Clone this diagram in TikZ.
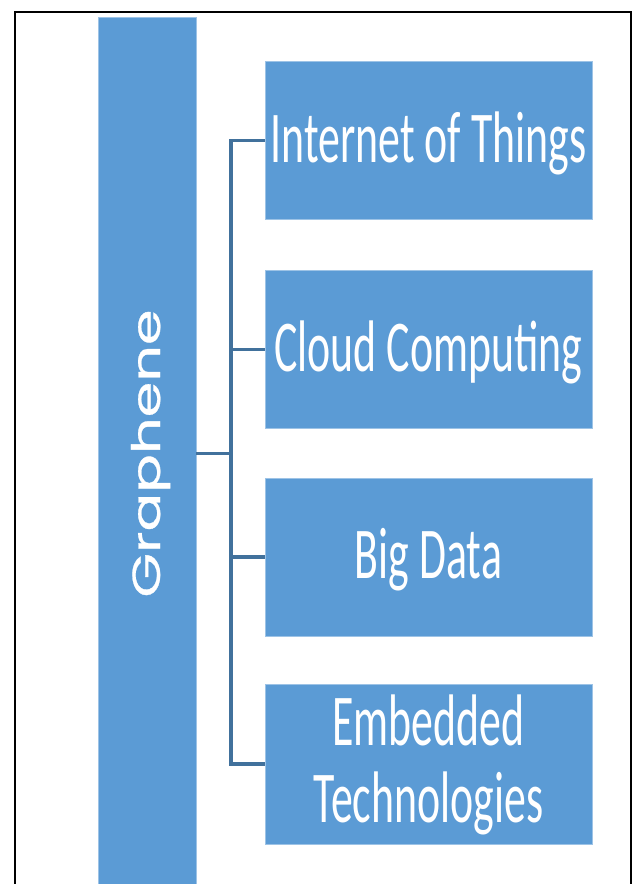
\documentclass[tikz,border=0pt]{standalone}
\usepackage{fontspec}
\newfontfamily\calib[FakeStretch=0.6]{Carlito}
\newfontfamily\gothic[FakeBold=0.6]{Poppins}
\definecolor{boxblue}{HTML}{5B9BD5}
\definecolor{linkblue}{HTML}{41719C}
\begin{document}
\begin{tikzpicture}[x=1pt,y=-1pt,
  blk/.style={fill=boxblue, draw=boxblue!60!white, line width=0.6pt, inner sep=0, minimum width=327pt, minimum height=158pt},
  lbl/.style={text=white, font=\calib\fontsize{73}{77}\selectfont, anchor=base, inner sep=0},
  link/.style={draw=linkblue, line width=3.4pt},
  linkshadow/.style={draw=black!55, line width=3.4pt, opacity=0.55}]
\useasboundingbox (0,0) rectangle (635,884);
\clip (0,0) rectangle (635,884);
\draw[line width=1.3pt] (15,12) rectangle (631,920);
% left tall box
\node[fill=boxblue, draw=boxblue!60!white, line width=0.6pt, inner sep=0, minimum width=98pt, minimum height=873pt] (g) at (147,453.5) {};
\node[rotate=90, anchor=base, text=white, inner sep=0] (gt) at (160,453.5) {\resizebox{288pt}{29pt}{\gothic Graphene}};
% right boxes
\node[blk] (b1) at (428.5,140.5) {};
\node[blk] (b2) at (428.5,349.5) {};
\node[blk] (b3) at (428.5,557) {};
\node[blk, minimum height=160pt] (b4) at (428.5,764) {};
\node[lbl] (l1) at (428.5,162) {Internet of Things};
\node[lbl] (l2) at (428.5,371) {Cloud Computing};
\node[lbl] (l3) at (428.5,578) {Big Data};
\node[lbl] (l4a) at (428.5,745) {Embedded};
\node[lbl] (l4b) at (428.5,822) {Technologies};
% connectors
\coordinate (hub) at (231,453.5);
\begin{scope}[shift={(1.3,2)}]
  \draw[linkshadow] (g.east) -- (hub);
  \draw[linkshadow] (b1.west) -- (hub |- b1.west) -- (hub |- b4.west) -- (b4.west);
  \draw[linkshadow] (hub |- b2.west) -- (b2.west);
  \draw[linkshadow] (hub |- b3.west) -- (b3.west);
\end{scope}
\draw[link] (g.east) -- (hub);
\draw[link] (b1.west) -- (hub |- b1.west) -- (hub |- b4.west) -- (b4.west);
\draw[link] (hub |- b2.west) -- (b2.west);
\draw[link] (hub |- b3.west) -- (b3.west);
\end{tikzpicture}
\end{document}
